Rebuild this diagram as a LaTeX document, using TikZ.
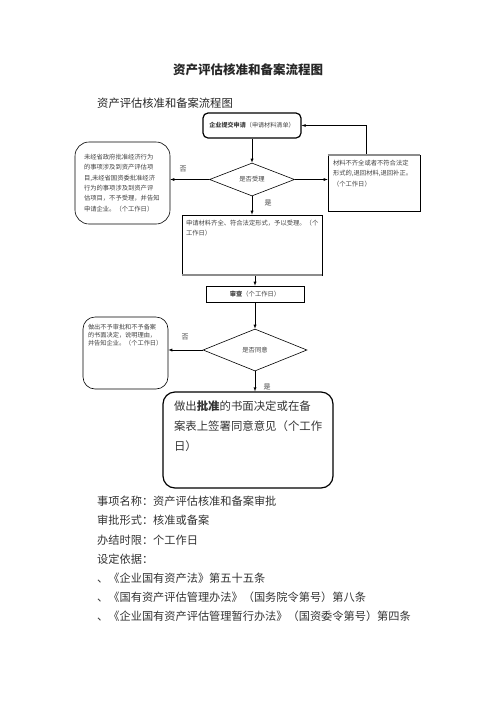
\documentclass[tikz,border=0pt]{standalone}
\usepackage{fontspec}
\setmainfont{Noto Sans CJK SC}
\usetikzlibrary{shapes.geometric}
\tikzset{
  stepbox/.style={draw, line width=.6pt, inner sep=0pt, text=black!75,
    font=\fontsize{6.3}{10.4}\selectfont},
  roundbox/.style={stepbox, rounded corners=12pt},
  decision/.style={draw, diamond, line width=.6pt, inner sep=0pt, text=black!75,
    font=\fontsize{6.3}{8}\selectfont},
  answer/.style={font=\fontsize{7}{8}\selectfont, text=black!75, inner sep=0pt},
  body/.style={anchor=west, inner sep=0pt, text=black!80,
    font=\fontsize{11.2}{13}\selectfont},
}
\begin{document}
\begin{tikzpicture}[x=1pt, y=-1pt]
\useasboundingbox (0,0) rectangle (496,702);

\node[font=\bfseries\fontsize{12.5}{14}\selectfont, text=black!85] (title) at (248,70) {资产评估核准和备案流程图};
\node[anchor=west, inner sep=0pt, font=\fontsize{11.3}{13}\selectfont, text=black!85] (subtitle) at (97,103) {资产评估核准和备案流程图};

% flow chart
\node[stepbox, rounded corners=5pt, line width=1.2pt, minimum width=98pt, minimum height=25pt, font=\fontsize{6.1}{8}\selectfont]
  (apply) at (252,125.5) {\textbf{企业提交申请}（申请材料清单）};
\node[decision, minimum width=85pt, minimum height=33pt] (accept) at (252,179.5) {是否受理};
\node[roundbox, rounded corners=14pt, inner xsep=9pt, inner ysep=4pt] (refuse) at (122.5,183)
  {\parbox[c][74pt][c]{77pt}{未经省政府批准经济行为\\的事项涉及到资产评估项\\目,未经省国资委批准经济\\行为的事项涉及到资产评\\估项目，不予受理，并告知\\申请企业。（个工作日）}};
\node[stepbox, inner xsep=5pt, inner ysep=5pt] (back) at (374,183)
  {\parbox[c][46pt][t]{82pt}{材料不齐全或者不符合法定\\形式的,退回材料,退回补正。\\（个工作日）}};
\node[stepbox, inner xsep=4pt, inner ysep=5pt] (accepted) at (252,245)
  {\parbox[c][50pt][t]{132pt}{申请材料齐全、符合法定形式，予以受理。（个\\工作日）}};
\node[stepbox, minimum width=98pt, minimum height=16pt] (review) at (255,294) {\textbf{审查}（个工作日）};
\node[decision, minimum width=104pt, minimum height=42pt] (agree) at (255,350) {是否同意};
\node[roundbox, inner xsep=5pt, inner ysep=7pt, font=\fontsize{6.2}{8.2}\selectfont] (deny) at (125.5,353)
  {\parbox[c][58pt][t]{75pt}{做出不予审批和不予备案\\的书面决定，说明理由，\\并告知企业。（个工作日）}};
\node[roundbox, line width=1.2pt, inner xsep=11pt, inner ysep=9pt, text=black!80, font=\fontsize{11.4}{20}\selectfont] (approve) at (248,440)
  {\parbox[c][78pt][t]{148pt}{做出\textbf{批准}的书面决定或在备\\案表上签署同意意见（个工作\\日）}};

\node[answer] (no1) at (183,169) {否};
\node[answer] (yes1) at (268,203) {是};
\node[answer] (no2) at (185,337) {否};
\node[answer] (yes2) at (267,387) {是};

\draw[-latex] (apply) -- (accept);
\draw[-latex] (accept.west) -- (accept.west -| refuse.east);
\draw[-latex] (accept.east) -- (accept.east -| back.west);
\draw[-latex] ([xshift=-8pt]back.north) |- (apply.east);
\draw[-latex] (accept) -- (accepted);
\draw[-latex] (review.north |- accepted.south) -- (review);
\draw[-latex] (review) -- (agree);
\draw[-latex] (agree.west) -- (agree.west -| deny.east);
\draw[-latex] (agree.south) -- (agree.south |- approve.north);
\draw[black!45, line width=1.8pt] (back.north west) -- (back.north east);
\draw[black!45, line width=1.8pt] (accepted.south west) -- (accepted.south east);

% text below
\node[body] (item) at (97,501) {事项名称：资产评估核准和备案审批};
\node[body] (form) at (97,520) {审批形式：核准或备案};
\node[body] (limit) at (97,540) {办结时限：个工作日};
\node[body] (basis) at (97,559) {设定依据：};
\node[body] (law1) at (97,578) {、《企业国有资产法》第五十五条};
\node[body] (law2) at (97,597) {、《国有资产评估管理办法》（国务院令第号）第八条};
\node[body] (law3) at (97,616) {、《企业国有资产评估管理暂行办法》（国资委令第号）第四条};
\end{tikzpicture}
\end{document}
